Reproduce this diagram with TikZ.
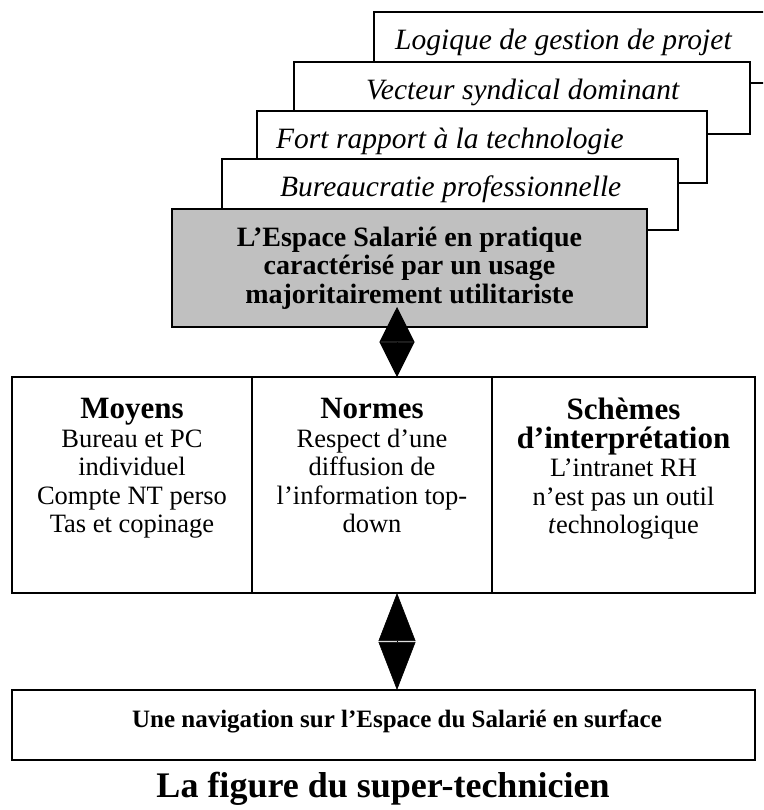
\documentclass[tikz,border=0pt]{standalone}
\usepackage{fontspec}
\setmainfont{Liberation Serif}
\usetikzlibrary{positioning, arrows.meta}
\definecolor{gris}{RGB}{192,192,192}

\begin{document}
\begin{tikzpicture}[
  x=1pt, y=-1pt,
  trait/.style={draw=black, line width=1.3pt},
  couche/.style={rectangle, trait, fill=white, anchor=north west,
                 inner sep=0pt, outer sep=0pt},
  txtcouche/.style={anchor=base west, inner sep=0pt,
                    font=\fontsize{29.5}{34}\selectfont\itshape},
  pivot/.style={couche, fill=gris, align=center,
                font=\fontsize{28}{28.5}\selectfont\bfseries},
  colonne/.style={couche, minimum height=216pt},
  txtcol/.style={anchor=north, inner sep=0pt, align=center,
                 font=\fontsize{26.5}{28.5}\selectfont},
  lien/.style={draw=black, line width=0.6pt,
               {Triangle[length=35pt,width=35pt]}-{Triangle[length=35pt,width=35pt]}},
  lienlong/.style={lien, {Triangle[length=48pt,width=37pt]}-{Triangle[length=48pt,width=37pt]}},
]
\useasboundingbox (0,0) rectangle (763,810);
\clip (0,0) rectangle (763,810);
\newcommand{\titrecol}{\fontsize{31}{31}\selectfont\bfseries}

% --- couches empilees ---
\node[couche, minimum width=406pt, minimum height=71pt] (log)  at (374,12)  {};
\node[txtcouche] (tlog)  at (395,50)  {Logique de gestion de projet};
\node[couche, minimum width=456pt, minimum height=72pt] (vec)  at (294,62)  {};
\node[txtcouche] (tvec)  at (366,100) {Vecteur syndical dominant};
\node[couche, minimum width=450pt, minimum height=72pt] (fort) at (257,111) {};
\node[txtcouche] (tfort) at (276,149) {Fort rapport à la technologie};
\node[couche, minimum width=456pt, minimum height=71pt] (bur)  at (222,159) {};
\node[txtcouche] (tbur)  at (280,197) {Bureaucratie professionnelle};
\node[pivot, minimum width=475pt, minimum height=118pt] (esp) at (172,209)
      {L’Espace Salarié en pratique\\caractérisé par un usage\\majoritairement utilitariste};

% --- tableau ---
\node[colonne, minimum width=240pt] (moy) at (12,377) {};
\node[colonne, minimum width=240pt] (nor) at (moy.north east) {};
\node[colonne, minimum width=263pt] (sch) at (nor.north east) {};
\node[txtcol] (tmoy) at ([yshift=-21pt]moy.north)
      {{\titrecol Moyens}\\Bureau et PC\\individuel\\Compte NT perso\\Tas et copinage};
\node[txtcol] (tnor) at ([yshift=-21pt]nor.north)
      {{\titrecol Normes}\\Respect d’une\\diffusion de\\l’information top-\\down};
\node[txtcol] (tsch) at ([yshift=-21pt]sch.north)
      {{\titrecol Schèmes}\\{\titrecol d’interprétation}\\L’intranet RH\\n’est pas un outil\\\textit{t}echnologique};

% --- bas ---
\node[couche, minimum width=743pt, minimum height=70pt] (nav) at (12,690) {};
\node[anchor=base, inner sep=0pt, font=\fontsize{25}{30}\selectfont\bfseries] (tnav) at (397,727)
      {Une navigation sur l’Espace du Salarié en surface};
\node[anchor=base, inner sep=0pt, font=\fontsize{36}{40}\selectfont\bfseries] (titre) at (383,797)
      {La figure du super-technicien};

% --- liens ---
\coordinate (axe) at (397,0);
\draw[lien] ([yshift=20pt]esp.south -| axe) -- (moy.north -| axe);
\draw[lienlong] (moy.south -| axe) -- (nav.north -| axe);
\end{tikzpicture}
\end{document}
